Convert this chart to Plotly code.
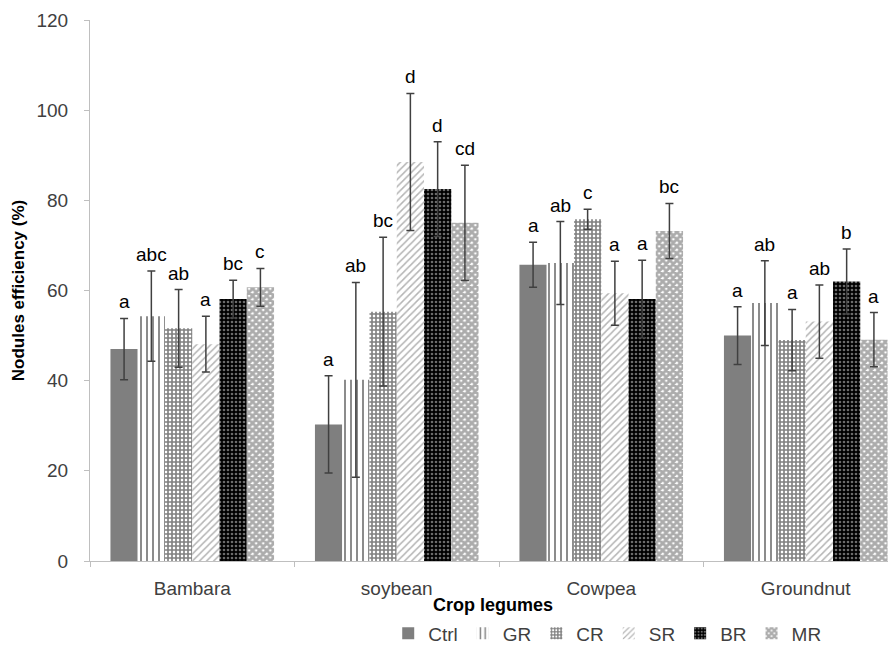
import plotly.graph_objects as go

categories = ["Bambara", "soybean", "Cowpea", "Groundnut"]
treatments = ["Ctrl", "GR", "CR", "SR", "BR", "MR"]

ctrl = [47.0, 30.3, 65.7, 50.0]
gr = [54.3, 40.2, 66.1, 57.2]
cr = [51.6, 55.3, 75.8, 49.0]
sr = [48.1, 88.5, 59.4, 53.1]
br = [58.1, 82.5, 58.1, 62.0]
mr = [60.7, 75.0, 73.2, 49.1]

ctrl_err = [6.8, 10.8, 5.0, 6.4]
gr_err = [10.0, 21.6, 9.2, 9.4]
cr_err = [8.6, 16.5, 2.2, 6.8]
sr_err = [6.2, 15.2, 7.1, 8.1]
br_err = [4.2, 10.5, 8.6, 7.2]
mr_err = [4.2, 12.8, 6.1, 6.0]

ctrl_lbl = ["a", "a", "a", "a"]
gr_lbl = ["abc", "ab", "ab", "ab"]
cr_lbl = ["ab", "bc", "c", "a"]
sr_lbl = ["a", "d", "a", "ab"]
br_lbl = ["bc", "d", "a", "b"]
mr_lbl = ["c", "cd", "bc", "a"]

values = [ctrl, gr, cr, sr, br, mr]
errors = [ctrl_err, gr_err, cr_err, sr_err, br_err, mr_err]
labels = [ctrl_lbl, gr_lbl, cr_lbl, sr_lbl, br_lbl, mr_lbl]

patterns = [
    dict(shape="", fgcolor="#7f7f7f", bgcolor="#7f7f7f"),
    dict(shape="|", fgcolor="#000000", bgcolor="#ffffff", size=6, solidity=0.3),
    dict(shape="+", fgcolor="#000000", bgcolor="#ffffff", size=4, solidity=0.65),
    dict(shape="/", fgcolor="#6a6a6a", bgcolor="#ffffff", size=5, solidity=0.3),
    dict(shape=".", fgcolor="#d8d8d8", bgcolor="#000000", size=4, solidity=0.35),
    dict(shape="x", fgcolor="#5a5a5a", bgcolor="#ffffff", size=5, solidity=0.8),
]
colors = ["#7f7f7f", "#ffffff", "#ffffff", "#ffffff", "#000000", "#ffffff"]

FONT = "Liberation Sans, Arial, sans-serif"
bargap = 0.2

fig = go.Figure()
for i, t in enumerate(treatments):
    fig.add_trace(go.Bar(
        name=t, x=categories, y=values[i],
        marker=dict(color=colors[i], pattern=patterns[i], line=dict(width=0)),
        error_y=dict(type="data", array=errors[i], color="#404040",
                     thickness=1.5, width=4),
    ))

n = len(treatments)
w = (1 - bargap) / n
for i in range(n):
    for c in range(len(categories)):
        xpos = c - 0.5 + bargap / 2 + (i + 0.5) * w
        fig.add_annotation(
            x=xpos, y=values[i][c] + errors[i][c], xref="x", yref="y",
            text=labels[i][c], showarrow=False, yanchor="bottom", yshift=4,
            font=dict(family=FONT, size=19, color="#000000"),
        )

fig.update_layout(
    width=888, height=638,
    margin=dict(l=82, r=0, t=12, b=85, autoexpand=False),
    paper_bgcolor="white", plot_bgcolor="white",
    barmode="group", bargap=bargap, bargroupgap=0,
    font=dict(family=FONT, size=19, color="#404040"),
    showlegend=True,
    legend=dict(orientation="h", x=0.37, y=-0.134, xanchor="left",
                yanchor="middle", font=dict(family=FONT, size=19, color="#404040"),
                itemwidth=30, tracegroupgap=0),
)
fig.update_xaxes(
    automargin=False,
    range=[-0.5, -0.5 + 806 / 204.5],
    showline=True, linecolor="#bfbfbf", linewidth=1,
    ticks="outside", tickson="boundaries", ticklen=5, tickcolor="#bfbfbf",
    ticklabelstandoff=10,
    showgrid=False,
    tickfont=dict(family=FONT, size=19, color="#404040"),
    title=dict(text="<b>Crop legumes</b>", standoff=0,
               font=dict(family=FONT, size=18, color="#000000")),
)
fig.update_yaxes(
    automargin=False,
    range=[0, 120], dtick=20,
    showline=True, linecolor="#bfbfbf", linewidth=1,
    ticks="outside", ticklen=5, tickcolor="#bfbfbf",
    ticklabelstandoff=12,
    showgrid=False, zeroline=False,
    tickfont=dict(family=FONT, size=19, color="#404040"),
    title=dict(text="<b>Nodules efficiency (%)</b>", standoff=7,
               font=dict(family=FONT, size=17, color="#000000")),
)

fig.write_html("out.html")
